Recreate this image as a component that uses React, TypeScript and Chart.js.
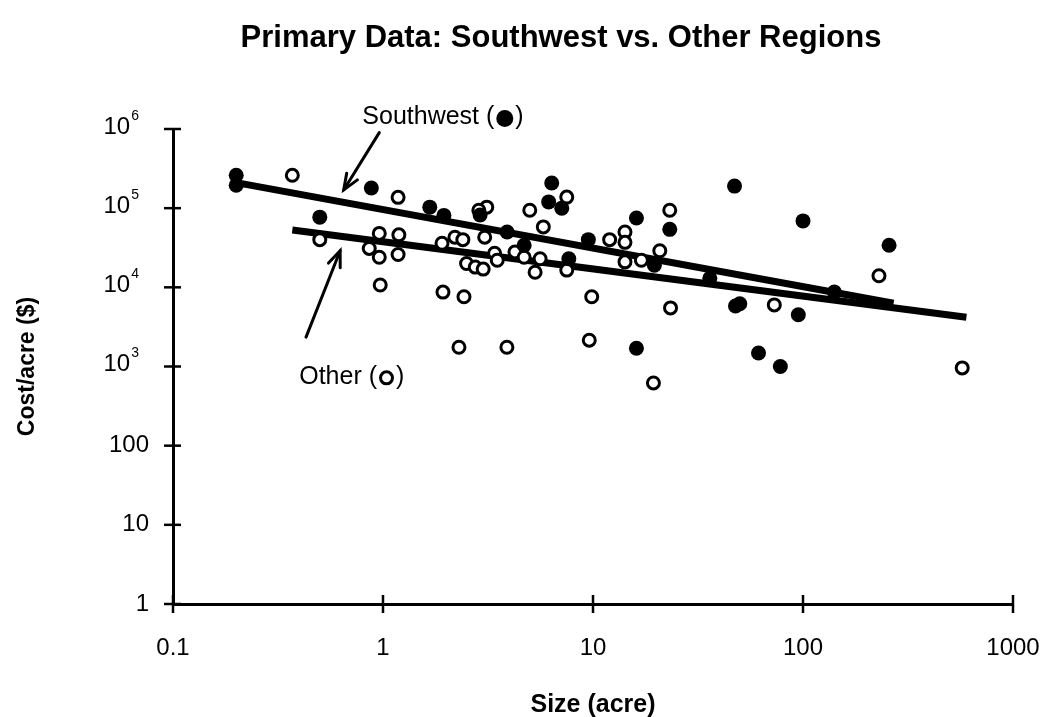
import React, { useEffect, useRef } from "react";
import { Chart, registerables } from "chart.js";

Chart.register(...registerables);

// ---- data ----
const SW_SIZE = [0.2, 0.2, 0.5, 0.88, 1.67, 1.95, 2.9, 3.9, 4.7, 6.36, 6.15, 7.1, 7.67, 9.5, 16.1, 23.2, 19.6, 16.1, 47.2, 100, 257, 141, 47.7, 50, 95, 61.4, 78, 36];
const SW_COST = [260000, 195000, 77000, 180000, 103000, 81000, 82000, 50000, 34000, 208000, 120000, 100000, 23000, 40000, 75000, 54000, 19000, 1700, 190000, 69000, 34000, 8700, 5800, 6200, 4500, 1480, 1000, 13000];

const OTHER_SIZE = [0.37, 1.18, 0.5, 0.96, 1.19, 0.86, 0.96, 1.18, 1.91, 2.2, 2.4, 0.97, 1.93, 2.43, 9.86, 2.3, 3.89, 9.6, 2.5, 2.75, 3.0, 3.12, 2.86, 3.05, 3.4, 3.5, 4.25, 4.7, 5.0, 5.8, 7.5, 5.6, 5.3, 7.5, 12, 14.2, 14.2, 23.2, 20.8, 14.2, 17.0, 23.4, 73, 19.4, 573, 230];
const OTHER_COST = [260000, 137000, 40000, 48000, 46000, 31000, 24000, 26000, 36000, 43000, 40000, 10700, 8700, 7600, 7600, 1750, 1750, 2150, 20000, 18000, 17000, 103000, 94000, 43000, 27000, 22000, 28000, 24000, 94000, 58000, 138000, 23000, 15500, 16500, 40000, 50000, 37000, 94000, 29000, 21000, 22000, 5500, 6000, 620, 960, 14000];

const SW_FIT_SIZE = [0.2, 270];
const SW_FIT_COST = [210000, 6300];
const OTHER_FIT_SIZE = [0.37, 600];
const OTHER_FIT_COST = [53000, 4200];

const X_TICKS = [0.1, 1, 10, 100, 1000];
const X_TICK_LABELS = ["0.1", "1", "10", "100", "1000"];
const Y_TICKS = [1, 10, 100, 1000, 10000, 100000, 1000000];
const Y_TICK_BASE = ["1", "10", "100", "10", "10", "10", "10"];
const Y_TICK_EXP = ["", "", "", "3", "4", "5", "6"];

const TITLE = "Primary Data: Southwest vs. Other Regions";
const X_TITLE = "Size (acre)";
const Y_TITLE = "Cost/acre ($)";

// annotation anchors in data coordinates [size, cost]
const SW_LABEL_AT = [1.93, 1400000];
const SW_ARROW_FROM = [0.96, 900000];
const SW_ARROW_TO = [0.65, 170000];
const OTHER_LABEL_AT = [0.71, 740];
const OTHER_ARROW_FROM = [0.43, 2350];
const OTHER_ARROW_TO = [0.625, 29000];

const FONT = "'Liberation Sans', Arial, Helvetica, sans-serif";

const pts = (xs: number[], ys: number[]) => xs.map((x, i) => ({ x, y: ys[i] }));

const drawArrow = (ctx: CanvasRenderingContext2D, x1: number, y1: number, x2: number, y2: number) => {
  ctx.save();
  ctx.strokeStyle = "#000";
  ctx.lineWidth = 3;
  ctx.lineCap = "round";
  ctx.beginPath();
  ctx.moveTo(x1, y1);
  ctx.lineTo(x2, y2);
  ctx.stroke();
  const a = Math.atan2(y2 - y1, x2 - x1);
  const L = 17;
  const spread = 0.38;
  ctx.beginPath();
  ctx.moveTo(x2 - L * Math.cos(a - spread), y2 - L * Math.sin(a - spread));
  ctx.lineTo(x2, y2);
  ctx.lineTo(x2 - L * Math.cos(a + spread), y2 - L * Math.sin(a + spread));
  ctx.stroke();
  ctx.restore();
};

const drawSymbolLabel = (ctx: CanvasRenderingContext2D, cx: number, cy: number, text: string, filled: boolean) => {
  ctx.save();
  ctx.font = `25px ${FONT}`;
  ctx.fillStyle = "#000";
  ctx.textBaseline = "middle";
  ctx.textAlign = "left";
  const pre = text + " (";
  const post = ")";
  const r = filled ? 8.5 : 7.5;
  const gap = 2;
  const wPre = ctx.measureText(pre).width;
  const wPost = ctx.measureText(post).width;
  const total = wPre + gap + 2 * r + gap + wPost;
  let x = cx - total / 2;
  ctx.fillText(pre, x, cy);
  x += wPre + gap;
  ctx.beginPath();
  if (filled) {
    ctx.arc(x + r, cy + 1, r, 0, Math.PI * 2);
    ctx.fill();
  } else {
    ctx.lineWidth = 3;
    ctx.strokeStyle = "#000";
    ctx.arc(x + r, cy + 1, r - 1.5, 0, Math.PI * 2);
    ctx.stroke();
  }
  x += 2 * r + gap;
  ctx.fillText(post, x, cy);
  ctx.restore();
};

const decorPlugin = {
  id: "decor",
  afterDraw(chart: any) {
    const ctx: CanvasRenderingContext2D = chart.ctx;
    const xs = chart.scales.x;
    const ys = chart.scales.y;
    const area = chart.chartArea;
    ctx.save();
    ctx.strokeStyle = "#000";
    ctx.fillStyle = "#000";

    // crossing tick marks
    ctx.lineWidth = 2.5;
    Y_TICKS.forEach((v) => {
      const py = ys.getPixelForValue(v);
      ctx.beginPath();
      ctx.moveTo(area.left - 9, py);
      ctx.lineTo(area.left + 8, py);
      ctx.stroke();
    });
    X_TICKS.forEach((v) => {
      const px = xs.getPixelForValue(v);
      ctx.beginPath();
      ctx.moveTo(px, area.bottom - 9);
      ctx.lineTo(px, area.bottom + 9);
      ctx.stroke();
    });

    // y tick labels with superscripts
    ctx.textBaseline = "middle";
    Y_TICKS.forEach((v, i) => {
      const py = ys.getPixelForValue(v);
      const base = Y_TICK_BASE[i];
      const exp = Y_TICK_EXP[i];
      if (!exp) {
        ctx.font = `24px ${FONT}`;
        ctx.textAlign = "right";
        ctx.fillText(base, area.left - 24, py);
      } else {
        ctx.font = `14px ${FONT}`;
        const we = ctx.measureText(exp).width;
        const right = area.left - 34;
        ctx.textAlign = "left";
        ctx.fillText(exp, right - we, py - 13);
        ctx.font = `24px ${FONT}`;
        ctx.textAlign = "right";
        ctx.fillText(base, right - we - 1, py - 2);
      }
    });

    // x tick labels
    ctx.font = `24px ${FONT}`;
    ctx.textAlign = "center";
    X_TICKS.forEach((v, i) => {
      const px = xs.getPixelForValue(v);
      ctx.fillText(X_TICK_LABELS[i], px, area.bottom + 44);
    });

    // title
    ctx.font = `bold 31px ${FONT}`;
    ctx.fillText(TITLE, 561, 38);

    // axis titles
    ctx.font = `bold 25px ${FONT}`;
    ctx.fillText(X_TITLE, (area.left + area.right) / 2, 705);
    ctx.font = `bold 23px ${FONT}`;
    ctx.save();
    ctx.translate(28, (area.top + area.bottom) / 2);
    ctx.rotate(-Math.PI / 2);
    ctx.fillText(Y_TITLE, 0, 0);
    ctx.restore();

    // annotations
    const P = (d: number[]) => [xs.getPixelForValue(d[0]), ys.getPixelForValue(d[1])];
    const swL = P(SW_LABEL_AT);
    drawSymbolLabel(ctx, swL[0], swL[1], "Southwest", true);
    const a1 = P(SW_ARROW_FROM), b1 = P(SW_ARROW_TO);
    drawArrow(ctx, a1[0], a1[1], b1[0], b1[1]);
    const oL = P(OTHER_LABEL_AT);
    drawSymbolLabel(ctx, oL[0], oL[1], "Other", false);
    const a2 = P(OTHER_ARROW_FROM), b2 = P(OTHER_ARROW_TO);
    drawArrow(ctx, a2[0], a2[1], b2[0], b2[1]);

    ctx.restore();
  },
};

export default function App() {
  const ref = useRef<HTMLCanvasElement | null>(null);
  useEffect(() => {
    document.body.style.margin = "0";
    const canvas = ref.current;
    if (!canvas) return;
    const chart = new Chart(canvas, {
      type: "scatter",
      data: {
        datasets: [
          {
            label: "Southwest fit",
            data: pts(SW_FIT_SIZE, SW_FIT_COST),
            showLine: true,
            borderColor: "#000",
            borderWidth: 7,
            pointRadius: 0,
            order: 3,
          },
          {
            label: "Other fit",
            data: pts(OTHER_FIT_SIZE, OTHER_FIT_COST),
            showLine: true,
            borderColor: "#000",
            borderWidth: 7,
            pointRadius: 0,
            order: 3,
          },
          {
            label: "Southwest",
            data: pts(SW_SIZE, SW_COST),
            pointRadius: 7.5,
            pointBackgroundColor: "#000",
            pointBorderColor: "#000",
            pointBorderWidth: 0,
            order: 1,
          },
          {
            label: "Other",
            data: pts(OTHER_SIZE, OTHER_COST),
            pointRadius: 6,
            pointBackgroundColor: "#fff",
            pointBorderColor: "#000",
            pointBorderWidth: 3,
            order: 2,
          },
        ],
      },
      options: {
        responsive: false,
        animation: false,
        devicePixelRatio: 1,
        layout: { padding: { left: 0, top: 129, right: 28, bottom: 0 } },
        plugins: { legend: { display: false }, tooltip: { enabled: false }, title: { display: false } },
        scales: {
          x: {
            type: "logarithmic",
            min: 0.1,
            max: 1000,
            afterBuildTicks: (s: any) => {
              s.ticks = X_TICKS.map((v) => ({ value: v }));
            },
            afterFit: (s: any) => {
              s.height = 113;
            },
            ticks: { display: false },
            grid: { display: false },
            border: { display: true, color: "#000", width: 3 },
          },
          y: {
            type: "logarithmic",
            min: 1,
            max: 1000000,
            afterBuildTicks: (s: any) => {
              s.ticks = Y_TICKS.map((v) => ({ value: v }));
            },
            afterFit: (s: any) => {
              s.width = 173;
            },
            ticks: { display: false },
            grid: { display: false },
            border: { display: true, color: "#000", width: 3 },
          },
        },
      },
      plugins: [decorPlugin],
    } as any);
    return () => chart.destroy();
  }, []);
  return (
    <div style={{ position: "absolute", left: 0, top: 0, width: 1041, height: 717, background: "#fff" }}>
      <canvas ref={ref} width={1041} height={717} style={{ width: 1041, height: 717, display: "block" }} />
    </div>
  );
}
